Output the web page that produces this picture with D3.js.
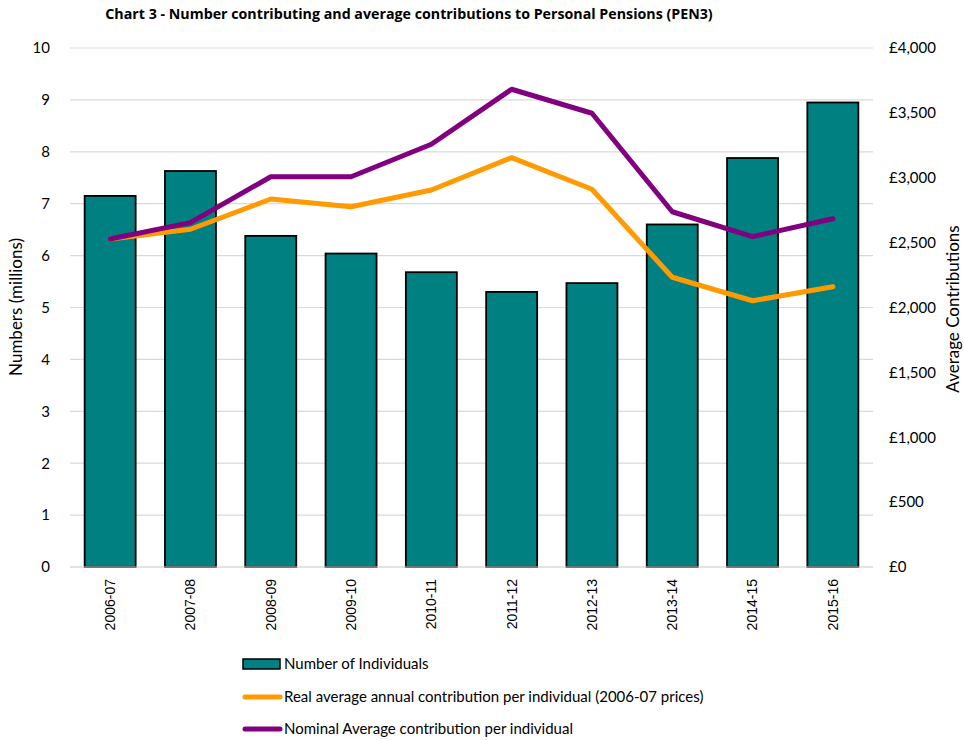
<!DOCTYPE html>
<html><head><meta charset="utf-8">
<script src="https://cdn.jsdelivr.net/npm/d3@7"></script>
<style>body{margin:0;background:#fff;} svg{display:block;}</style>
</head><body>
<svg id="c" width="964" height="740"></svg>
<script>
const categories = ["2006-07","2007-08","2008-09","2009-10","2010-11","2011-12","2012-13","2013-14","2014-15","2015-16"];
const individuals = [7.15, 7.63, 6.38, 6.04, 5.68, 5.30, 5.47, 6.60, 7.88, 8.95];
const realAvg = [2528, 2603, 2836, 2777, 2906, 3155, 2911, 2233, 2052, 2160];
const nominalAvg = [2528, 2654, 3008, 3008, 3258, 3682, 3497, 2738, 2546, 2684];
const leftTicks = [0,1,2,3,4,5,6,7,8,9,10];
const rightTicks = [0,500,1000,1500,2000,2500,3000,3500,4000];
const title = "Chart 3 - Number contributing and average contributions to Personal Pensions (PEN3)";
const seriesNames = ["Number of Individuals","Real average annual contribution per individual (2006-07 prices)","Nominal Average contribution per individual"];
const colors = {bar:"#008080", real:"#FF9A00", nominal:"#800080"};

const svg = d3.select("#c");
const L = 70, R = 873, T = 48, B = 567;
const x = d3.scaleBand().domain(categories).range([L, R]).paddingInner(0.365).paddingOuter(0.1825);
const yL = d3.scaleLinear().domain([0,10]).range([B, T]);
const yR = d3.scaleLinear().domain([0,4000]).range([B, T]);
const font = "Lato, 'Open Sans', sans-serif";

// title
const t = svg.append("text").attr("x", 409).attr("y", 19).attr("text-anchor","middle")
  .attr("font-family", "'Open Sans', Lato, sans-serif").attr("font-weight","bold").attr("font-size", 14).attr("fill","#000").text(title);
const tw = t.node().getComputedTextLength();
if (tw > 0) t.attr("font-size", Math.min(16, 14 * 608 / tw));

// gridlines
svg.append("g").selectAll("line").data(leftTicks).join("line")
  .attr("x1", L).attr("x2", R).attr("y1", d=>yL(d)).attr("y2", d=>yL(d))
  .attr("stroke", "#d9d9d9").attr("stroke-width", 1.2);

// left axis
const gl = svg.append("g").attr("transform",`translate(${L},0)`)
  .call(d3.axisLeft(yL).tickValues(leftTicks).tickSize(0).tickPadding(20).tickFormat(d3.format("d")));
gl.select(".domain").remove();
gl.selectAll("text").attr("font-family", font).attr("font-size", 15).attr("fill","#000");

// right axis
const gr = svg.append("g").attr("transform",`translate(${R},0)`)
  .call(d3.axisRight(yR).tickValues(rightTicks).tickSize(0).tickPadding(16).tickFormat(d => "£" + d3.format(",")(d)));
gr.select(".domain").remove();
gr.selectAll("text").attr("font-family", font).attr("font-size", 15).attr("fill","#000");

// bars
svg.append("g").selectAll("rect").data(individuals).join("rect")
  .attr("x", (d,i)=>x(categories[i])).attr("width", x.bandwidth())
  .attr("y", d=>yL(d)).attr("height", d=>B - yL(d))
  .attr("fill", colors.bar).attr("stroke", "#000").attr("stroke-width", 1.8);

// baseline
svg.append("line").attr("x1", L).attr("x2", R).attr("y1", B).attr("y2", B).attr("stroke","#d9d9d9").attr("stroke-width",1.2);

// x axis labels
const gx = svg.append("g").attr("transform",`translate(0,${B})`)
  .call(d3.axisBottom(x).tickSize(0).tickPadding(0));
gx.select(".domain").remove();
gx.selectAll("text").attr("font-family","'Liberation Sans', Arial, sans-serif").attr("font-size", 14).attr("fill","#000")
  .attr("transform","rotate(-90)").attr("text-anchor","end").attr("x", -12).attr("y", 0).attr("dy","0.35em");

// lines
const line = (arr) => d3.line().x((d,i)=>x(categories[i]) + x.bandwidth()/2).y(d=>yR(d))(arr);
svg.append("path").attr("d", line(realAvg)).attr("fill","none").attr("stroke", colors.real)
  .attr("stroke-width", 5).attr("stroke-linecap","round").attr("stroke-linejoin","round");
svg.append("path").attr("d", line(nominalAvg)).attr("fill","none").attr("stroke", colors.nominal)
  .attr("stroke-width", 5).attr("stroke-linecap","round").attr("stroke-linejoin","round");

// axis titles
svg.append("text").attr("transform","translate(22,307) rotate(-90)").attr("text-anchor","middle")
  .attr("font-family", font).attr("font-size", 17).attr("fill","#000").text("Numbers (millions)");
svg.append("text").attr("transform","translate(959,309) rotate(-90)").attr("text-anchor","middle")
  .attr("font-family", font).attr("font-size", 17).attr("fill","#000").text("Average Contributions");

// legend
const lg = svg.append("g");
lg.append("rect").attr("x", 243).attr("y", 659).attr("width", 37).attr("height", 10)
  .attr("fill", colors.bar).attr("stroke","#000").attr("stroke-width",1.5);
lg.append("line").attr("x1", 245).attr("x2", 280).attr("y1", 697).attr("y2", 697)
  .attr("stroke", colors.real).attr("stroke-width", 5).attr("stroke-linecap","round");
lg.append("line").attr("x1", 245).attr("x2", 280).attr("y1", 729).attr("y2", 729)
  .attr("stroke", colors.nominal).attr("stroke-width", 5).attr("stroke-linecap","round");
lg.selectAll("text").data(seriesNames).join("text")
  .attr("x", 284).attr("y", (d,i)=>664 + i*32.5).attr("dy","0.35em")
  .attr("font-family", font).attr("font-size", 15).attr("fill","#000").text(d=>d);
</script>
</body></html>
